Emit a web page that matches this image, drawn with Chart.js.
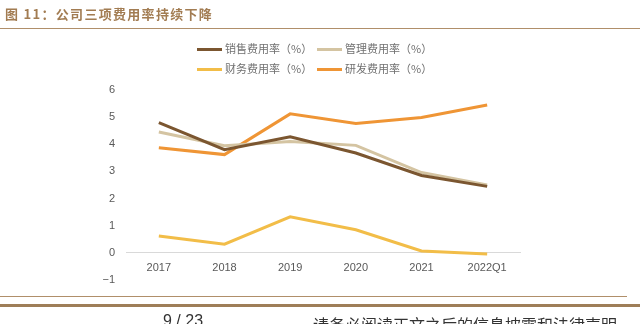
<!DOCTYPE html>
<html>
<head>
<meta charset="utf-8">
<script src="https://cdn.jsdelivr.net/npm/chart.js@4.4.0/dist/chart.umd.min.js"></script>
<style>
  body { margin: 0; width: 640px; height: 324px; overflow: hidden; background: #fff; position: relative; font-family: "Noto Sans CJK SC", sans-serif; }
  #wrap { position: absolute; left: 0; top: 0; width: 640px; height: 324px; }
  .title { position: absolute; left: 5px; top: 4px; font-size: 13px; font-weight: bold; color: #a27c52; letter-spacing: 1.3px; }
  .hr { position: absolute; left: 0; background: #b08f6a; }
  .legend { position: absolute; font-size: 11px; color: #707070; }
  .item { position: absolute; white-space: nowrap; height: 14px; line-height: 14px; }
  .item span.sw { display: inline-block; width: 25px; height: 3px; vertical-align: middle; margin-right: 3px; margin-top: -2px; }
  .foot { position: absolute; top: 312px; font-size: 16px; color: #333; white-space: nowrap; }
</style>
</head>
<body>
<div id="wrap"><canvas id="line-chart" width="640" height="324"></canvas></div>
<div class="title">图 11：公司三项费用率持续下降</div>
<div class="hr" style="top:28px;width:640px;height:1px;"></div>
<div class="legend" id="legend"></div>
<div class="hr" style="top:296px;width:627px;height:1px;"></div>
<div class="hr" style="top:304px;width:640px;height:3px;background:#9e7e58;"></div>
<div class="foot" style="left:163px;font-family:'Liberation Sans',sans-serif;">9 / 23</div>
<div class="foot" style="left:313px;">请务必阅读正文之后的信息披露和法律声明</div>
<script>
var labels = ['2017', '2018', '2019', '2020', '2021', '2022Q1'];
var seriesNames = ['销售费用率（%）', '管理费用率（%）', '财务费用率（%）', '研发费用率（%）'];
var sales = [4.8, 3.8, 4.28, 3.68, 2.85, 2.45];
var admin = [4.45, 3.95, 4.1, 3.96, 2.96, 2.5];
var finance = [0.62, 0.32, 1.33, 0.85, 0.07, -0.04];
var rnd = [3.87, 3.62, 5.12, 4.77, 4.99, 5.45];
var yTicks = [-1, 0, 1, 2, 3, 4, 5, 6];
var colors = ['#7b5630', '#d4c4a2', '#f2bd48', '#ef9535'];

var allData = [sales, admin, finance, rnd];

var ctx = document.getElementById("line-chart").getContext("2d");

var graphData = {
    type: 'line',
    data: {
        labels: labels,
        datasets: allData.map(function (d, i) {
            return {
                label: seriesNames[i],
                data: d,
                borderColor: colors[i],
                backgroundColor: colors[i],
                borderWidth: 3,
                pointRadius: 0,
                fill: false,
                tension: 0
            };
        })
    },
    options: {
        responsive: false,
        animation: false,
        layout: { padding: { left: 96, right: 120, top: 90, bottom: 44 } },
        plugins: { legend: { display: false }, tooltip: { enabled: false } },
        scales: {
            x: {
                position: { y: 0 },
                offset: true,
                border: { display: true, color: '#d9d9d9', width: 1 },
                grid: { display: false },
                ticks: { color: '#595959', font: { family: 'Liberation Sans', size: 11 }, padding: 1, maxRotation: 0 }
            },
            y: {
                min: -1,
                max: 6,
                afterFit: function (scale) { scale.width = 30; },
                afterBuildTicks: function (scale) { scale.ticks = yTicks.map(function (v) { return { value: v }; }); },
                border: { display: false },
                grid: { display: false },
                ticks: {
                    color: '#595959',
                    font: { family: 'Liberation Sans', size: 11 },
                    padding: 3,
                    callback: function (v) { return v < 0 ? '\u2212' + Math.abs(v) : String(v); }
                }
            }
        }
    }
};

var myChart = new Chart(ctx, graphData);

// legend, two rows
var pos = [[197, 41], [317, 41], [197, 61], [317, 61]];
var lg = document.getElementById('legend');
seriesNames.forEach(function (n, i) {
    var el = document.createElement('div');
    el.className = 'item';
    el.style.left = pos[i][0] + 'px';
    el.style.top = pos[i][1] + 'px';
    el.innerHTML = '<span class="sw" style="background:' + colors[i] + '"></span>' + n;
    lg.appendChild(el);
});
</script>
</body>
</html>
